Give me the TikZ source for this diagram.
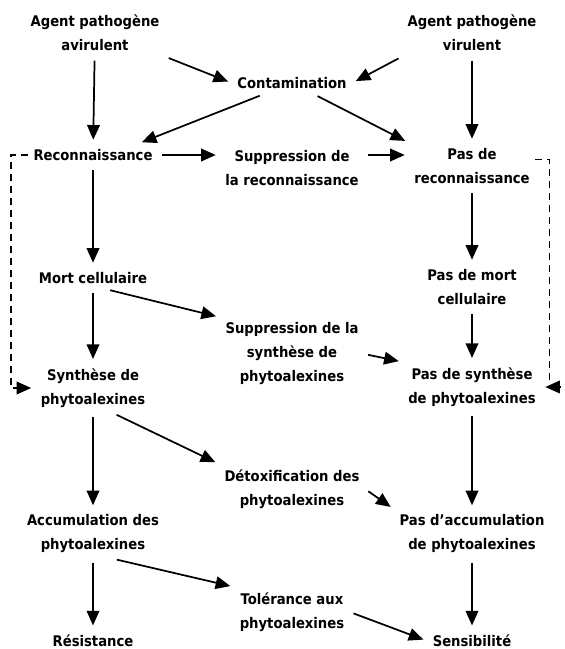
\documentclass[tikz,border=0pt]{standalone}
\usepackage{fontspec}
\setmainfont{DejaVu Sans Condensed}
\usetikzlibrary{arrows.meta}

\begin{document}
\begin{tikzpicture}[x=0.75pt,y=-0.75pt,
    every node/.style={align=center,inner sep=4pt,font=\fontsize{11}{18}\selectfont\bfseries},
    flow/.style={line width=1.3pt,-{Triangle[length=11pt,width=9.5pt]},shorten >=3pt,shorten <=3pt},
    loop/.style={line width=1pt,dash pattern=on 5pt off 4pt}]
  \useasboundingbox (0,0) rectangle (564,649);

  % colonne avirulent
  \node (avir) at (95,33) {Agent pathogène\\avirulent};
  \node (rec)  at (93,155) {Reconnaissance};
  \node (mort) at (93,278) {Mort cellulaire};
  \node (syn)  at (93,388) {Synthèse de\\phytoalexines};
  \node (acc)  at (93,534) {Accumulation des\\phytoalexines};
  \node (res)  at (93,641) {Résistance};

  % colonne virulent
  \node (vir)     at (472,33)  {Agent pathogène\\virulent};
  \node (pasrec)  at (472,166) {Pas de\\reconnaissance};
  \node (pasmort) at (472,287) {Pas de mort\\cellulaire};
  \node (passyn)  at (472,387) {Pas de synthèse\\de phytoalexines};
  \node (pasacc)  at (472,534) {Pas d'accumulation\\de phytoalexines};
  \node (sens)    at (472,641) {Sensibilité};

  % milieu
  \node (cont)   at (292,83)  {Contamination};
  \node (suprec) at (292,168) {Suppression de\\la reconnaissance};
  \node (supsyn) at (292,354) {Suppression de la\\synthèse de\\phytoalexines};
  \node (detox)  at (292,489) {Détoxification des\\phytoalexines};
  \node (tol)    at (292,612) {Tolérance aux\\phytoalexines};

  \foreach \a/\b in {avir/rec,rec/mort,mort/syn,syn/acc,acc/res,
                     vir/pasrec,pasrec/pasmort,pasmort/passyn,passyn/pasacc,pasacc/sens}
    \draw[flow] (\a) -- (\b);

  \draw[flow] (avir.south east) -- (cont.west);
  \draw[flow] (vir.south west) -- (cont.east);
  \draw[flow] (cont) -- ([xshift=-15pt]rec.north east);
  \draw[flow] (cont) -- (pasrec.north west);
  \draw[flow] (rec.east) -- (rec.east -| suprec.west);
  \draw[flow] (suprec.east |- rec.east) -- (pasrec.west |- rec.east);
  \draw[flow] ([xshift=10pt]mort.south) -- (supsyn.north west);
  \draw[flow] (supsyn.east) -- (passyn.north west);
  \draw[flow] ([xshift=15pt]syn.south) -- (detox.north west);
  \draw[flow] (detox.east) -- (pasacc.north west);
  \draw[flow] ([xshift=15pt]acc.south) -- (tol.north west);
  \draw[flow] (tol.east) -- (sens.west);

  % boucles pointillees
  \draw[loop] (rec.west) -- ++(-17,0) |- ([xshift=-14]syn.west);
  \draw[flow,shorten <=0pt] ([xshift=-16]syn.west) -- (syn.west);
  \draw[loop] ([yshift=5pt]pasrec.east) -- ++(14,0) |- ([xshift=12]passyn.east);
  \draw[flow,shorten <=0pt] ([xshift=14]passyn.east) -- (passyn.east);
\end{tikzpicture}
\end{document}
